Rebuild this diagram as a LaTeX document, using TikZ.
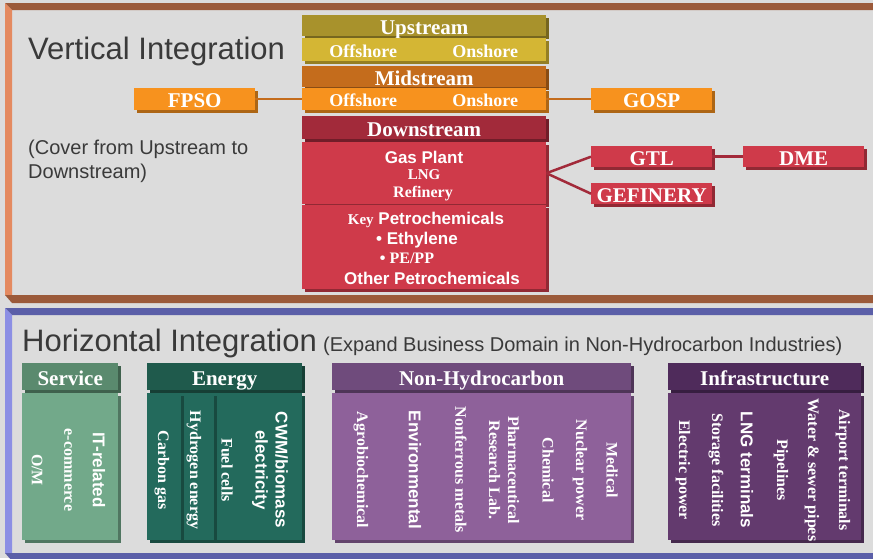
\documentclass[tikz,border=0pt]{standalone}
\usepackage{fontspec}
\setmainfont{Liberation Serif}
\setsansfont{Liberation Sans}
\usepackage{tikz}
\usetikzlibrary{shadows}
\definecolor{igbg}{RGB}{220,220,220}
\definecolor{igbrown}{RGB}{155,90,58}
\definecolor{igpeach}{RGB}{228,138,96}
\definecolor{igindigo}{RGB}{91,95,168}
\definecolor{igperiwinkle}{RGB}{140,143,228}
\definecolor{igtext}{RGB}{58,58,58}
\definecolor{igolive}{RGB}{168,146,44}
\definecolor{iggold}{RGB}{212,182,52}
\definecolor{igrust}{RGB}{196,108,28}
\definecolor{igorange}{RGB}{247,146,30}
\definecolor{igwine}{RGB}{162,42,58}
\definecolor{igred}{RGB}{207,58,74}
\definecolor{igsage}{RGB}{90,138,110}
\definecolor{igsagelt}{RGB}{114,169,138}
\definecolor{igteal}{RGB}{31,90,76}
\definecolor{igteallt}{RGB}{35,106,92}
\definecolor{igplum}{RGB}{111,75,124}
\definecolor{igplumlt}{RGB}{142,97,154}
\definecolor{igaubergine}{RGB}{79,43,91}
\definecolor{igaubergonelt}{RGB}{99,58,110}

\begin{document}
\begin{tikzpicture}[x=1pt,y=-1pt,
  slab/.style={fill=#1, anchor=north west, inner sep=0pt, text=white,
    text height=17pt, text depth=0pt,
    font=\bfseries\fontsize{21}{21}\selectfont,
    general shadow={fill=#1!70!black, shadow xshift=2.5pt, shadow yshift=-3pt}},
  halfslab/.style={slab=#1, minimum width=122pt, text height=15pt,
    font=\bfseries\fontsize{18}{18}\selectfont},
  title/.style={anchor=base west, text=igtext, inner sep=0pt, font=\sffamily\fontsize{31}{31}\selectfont},
  note/.style={anchor=base west, text=igtext, inner sep=0pt, font=\sffamily\fontsize{20}{24}\selectfont},
  inbox/.style={text=white, inner sep=0pt, font=\bfseries\fontsize{15}{15}\selectfont},
  insans/.style={text=white, inner sep=0pt, font=\sffamily\bfseries\fontsize{17}{17}\selectfont},
  col/.style={rotate=-90, text=white, inner sep=0pt, align=center, font=\bfseries\fontsize{16}{19}\selectfont},
  colsans/.style={col, font=\sffamily\bfseries\fontsize{17}{20}\selectfont},
  link/.style={line width=2.5pt, draw=#1},
]
\useasboundingbox (0,0) rectangle (873,558);
\fill[igbg] (0,0) rectangle (873,558);

% Vertical integration frame
\fill[igbrown] (5,3) -- (873,3) -- (873,10) -- (12,10) -- cycle;
\fill[igpeach] (5,3) -- (12,10) -- (12,295) -- (5,295) -- cycle;
\fill[igbrown] (5,295) -- (873,295) -- (873,303) -- (12,303) -- cycle;
% Horizontal integration frame
\fill[igindigo] (5,308) -- (873,308) -- (873,315) -- (12,315) -- cycle;
\fill[igperiwinkle] (5,308) -- (12,315) -- (12,553) -- (5,553) -- cycle;
\fill[igindigo] (5,553) -- (873,553) -- (873,561) -- (12,561) -- cycle;

\node[title] (vtitle) at (28,59) {Vertical Integration};
\node[note, align=left] (vnote) at (28,178) {(Cover from Upstream to\\Downstream)};

% Upstream / midstream / downstream chain
\node[slab=igolive, minimum width=244pt, minimum height=21pt] (up) at (302,15) {Upstream};
\node[halfslab=iggold, minimum height=23pt] (upoff) at (302,38) {Offshore};
\node[halfslab=iggold, minimum height=23pt] (upon) at (424,38) {Onshore};
\node[slab=igrust, minimum width=244pt, minimum height=21pt] (mid) at (302,66) {Midstream};
\node[halfslab=igorange, minimum height=22pt] (midoff) at (302,88) {Offshore};
\node[halfslab=igorange, minimum height=22pt] (midon) at (424,88) {Onshore};
\node[slab=igwine, minimum width=244pt, minimum height=23pt] (down) at (302,116) {Downstream};
\node[slab=igred, minimum width=244pt, minimum height=62pt] (gas) at (302,142) {};
\node[slab=igred, minimum width=244pt, minimum height=84pt] (petro) at (302,205) {};

% Downstream contents
\node[insans] (gasplant) at (424,157) {Gas Plant};
\node[inbox] (lng) at (424,175) {LNG};
\node[inbox, font=\bfseries\fontsize{16}{16}\selectfont] (refinery) at (423,194) {Refinery};
\node[insans] (keypetro) at (426,220) {{\rmfamily\fontsize{15}{15}\selectfont Key} Petrochemicals};
\node[insans] (ethylene) at (417,240) {• Ethylene};
\node[inbox, font=\bfseries\fontsize{16}{16}\selectfont] (pepp) at (407,258) {{\sffamily •} PE/PP};
\node[insans] (otherpetro) at (432,278) {Other Petrochemicals};

% Side businesses
\node[slab=igorange, minimum width=121pt, minimum height=22pt] (fpso) at (134,88) {FPSO};
\node[slab=igorange, minimum width=121pt, minimum height=22pt] (gosp) at (591,88) {GOSP};
\node[slab=igred, minimum width=121pt, minimum height=21pt] (gtl) at (591,146) {GTL};
\node[slab=igred, minimum width=121pt, minimum height=21pt] (dme) at (743,146) {DME};
\node[slab=igred, minimum width=121pt, minimum height=21pt] (gef) at (591,183) {GEFINERY};

\draw[link=igrust] (fpso.east) -- (midoff.west);
\draw[link=igrust] (midon.east) -- (gosp.west);
\draw[link=igwine] (gas.east) -- (gtl.west);
\draw[link=igwine] (gas.east) -- (gef.west);
\draw[link=igwine] (gtl.east) -- (dme.west);

\node[title] (htitle) at (22,351) {Horizontal Integration};
\node[note] (hnote) at (323,351) {(Expand Business Domain in Non-Hydrocarbon Industries)};

% Service
\node[slab=igsage, minimum width=96pt, minimum height=27pt] (service) at (22,363) {Service};
\node[slab=igsagelt, minimum width=96pt, minimum height=147pt] (servbody) at (22,393) {};
\node[col] (om) at (37,470) {O/M};
\node[col] (ecom) at (68,470) {e-commerce};
\node[colsans] (itrel) at (99,470) {IT-related};

% Energy
\node[slab=igteal, minimum width=155pt, minimum height=27pt] (energy) at (147,363) {Energy};
\node[slab=igteallt, minimum width=88pt, minimum height=147pt] (enrest) at (214,393) {};
\node[slab=igteallt, minimum width=33pt, minimum height=147pt] (enhyd) at (181,393) {};
\node[slab=igteallt, minimum width=34pt, minimum height=147pt] (encarb) at (147,393) {};
\node[col] (carbon) at (162,470) {Carbon gas};
\node[col] (hydrogen) at (194,470) {Hydrogen energy};
\node[col] (fuelcell) at (227,470) {Fuel cells};
\node[colsans] (cwm) at (270,470) {CWM/biomass\\electricity};

% Non-hydrocarbon
\node[slab=igplum, minimum width=299pt, minimum height=27pt] (nonhc) at (332,363) {Non-Hydrocarbon};
\node[slab=igplumlt, minimum width=299pt, minimum height=147pt] (nonhcbody) at (332,393) {};
\node[col] (agro) at (361,470) {Agrobiochemical};
\node[colsans] (environ) at (415,470) {Environmental};
\node[col] (nonferrous) at (461,470) {Nonferrous metals};
\node[col] (pharma) at (504,470) {Pharmaceutical\\Research Lab.};
\node[col] (chemical) at (548,470) {Chemical};
\node[col] (nuclear) at (580,470) {Nuclear power};
\node[col] (medical) at (612,470) {Medical};

% Infrastructure
\node[slab=igaubergine, minimum width=193pt, minimum height=27pt] (infra) at (668,363) {Infrastructure};
\node[slab=igaubergonelt, minimum width=193pt, minimum height=147pt] (infrabody) at (668,393) {};
\node[col] (elec) at (683,470) {Electric power};
\node[col] (storage) at (716,470) {Storage facilities};
\node[colsans] (lngterm) at (747,470) {LNG terminals};
\node[col] (pipelines) at (781,470) {Pipelines};
\node[col] (water) at (812,470) {Water \& sewer pipes};
\node[col] (airport) at (843,470) {Airport terminals};
\end{tikzpicture}
\end{document}
